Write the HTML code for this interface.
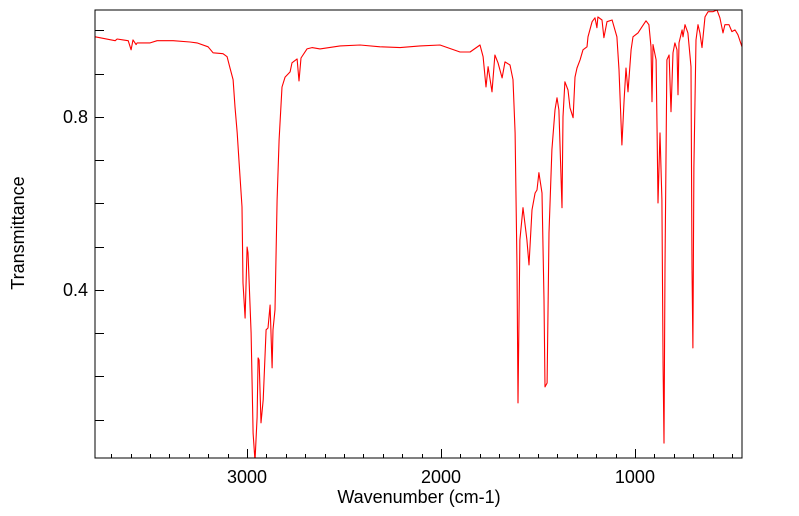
<!DOCTYPE html>
<html><head><meta charset="utf-8"><style>
html,body{margin:0;padding:0;background:#fff;}
svg{display:block;font-family:"Liberation Sans","DejaVu Sans",sans-serif;}
</style></head><body>
<svg id="chart" width="799" height="516" xmlns="http://www.w3.org/2000/svg">
<defs><clipPath id="clip"><rect x="95" y="10" width="647" height="448"/></clipPath></defs>
<g id="ticks"></g>
<g id="labels"></g>
<path id="spectrum" clip-path="url(#clip)" fill="none" stroke="#ff0000" stroke-width="1.1" stroke-linejoin="round"/>
<rect x="95" y="10" width="647" height="448" fill="none" stroke="#000" stroke-width="1"/>
<text x="419" y="503" font-size="18" text-anchor="middle">Wavenumber (cm-1)</text>
<text transform="translate(24,233) rotate(-90)" font-size="18" text-anchor="middle">Transmittance</text>
</svg>
<script>
const wavenumbers=[3783,3680,3670,3639,3613,3598,3588,3572,3567,3552,3500,3464,3381,3294,3258,3201,3175,3124,3103,3088,3072,3062,3051,3041,3026,3021,3010,3000,2995,2979,2969,2959,2948,2943,2938,2928,2917,2902,2892,2881,2871,2866,2856,2845,2835,2820,2804,2778,2768,2742,2732,2722,2691,2665,2624,2520,2417,2314,2211,2108,2005,1902,1850,1799,1783,1768,1757,1737,1722,1706,1685,1670,1644,1629,1618,1608,1603,1593,1577,1557,1546,1531,1515,1505,1495,1479,1469,1464,1453,1443,1428,1412,1402,1392,1376,1371,1361,1345,1335,1319,1309,1299,1283,1268,1247,1242,1221,1206,1196,1191,1170,1160,1144,1118,1093,1082,1067,1056,1046,1036,1020,1010,984,964,943,928,917,912,907,891,886,881,871,861,855,850,845,835,824,814,804,794,783,778,773,757,752,742,727,711,706,701,696,685,675,665,654,639,623,598,577,562,546,536,515,500,484,469,448];
const transmittance=[0.985,0.976,0.980,0.978,0.976,0.955,0.978,0.967,0.971,0.971,0.971,0.976,0.976,0.973,0.971,0.962,0.948,0.946,0.939,0.913,0.886,0.823,0.763,0.694,0.592,0.416,0.335,0.499,0.486,0.301,0.069,0.005,0.106,0.243,0.238,0.093,0.146,0.308,0.312,0.365,0.220,0.308,0.354,0.608,0.747,0.869,0.892,0.904,0.925,0.934,0.883,0.936,0.957,0.960,0.957,0.964,0.966,0.962,0.960,0.964,0.966,0.950,0.950,0.966,0.939,0.869,0.916,0.858,0.943,0.925,0.890,0.927,0.920,0.886,0.763,0.453,0.139,0.516,0.590,0.516,0.458,0.585,0.624,0.631,0.671,0.624,0.377,0.176,0.185,0.532,0.724,0.816,0.844,0.816,0.590,0.800,0.881,0.862,0.821,0.798,0.892,0.913,0.932,0.955,0.962,0.985,1.020,1.029,1.006,1.031,1.024,0.983,1.020,1.024,0.985,0.909,0.735,0.839,0.913,0.858,0.955,0.985,0.994,1.008,1.022,1.013,0.962,0.835,0.967,0.932,0.763,0.601,0.763,0.608,0.222,0.046,0.453,0.932,0.943,0.812,0.948,0.971,0.955,0.851,0.971,1.001,0.985,1.013,0.994,0.916,0.453,0.266,0.684,0.978,1.013,0.994,0.960,1.031,1.043,1.043,1.047,1.029,0.994,1.013,1.013,0.997,1.001,0.990,0.962];
const xTickLabels=[3000,2000,1000];
const yTickLabels=[0.4,0.8];
const xMinorTicks=[3700,3600,3500,3400,3300,3200,3100,3000,2900,2800,2700,2600,2500,2400,2300,2200,2100,2000,1900,1800,1700,1600,1500,1400,1300,1200,1100,1000,900,800,700,600,500];
const yMinorTicks=[0.1,0.2,0.3,0.4,0.5,0.6,0.7,0.8,0.9,1.0];

const X0=95,X1=742,Y0=10,Y1=458;
const W_LEFT=3784,W_RIGHT=448,T_TOP=1.047,T_BOT=0.0116;
function xs(w){return X0+(W_LEFT-w)/(W_LEFT-W_RIGHT)*(X1-X0);}
function ys(t){return Y0+(T_TOP-t)/(T_TOP-T_BOT)*(Y1-Y0);}
const NS="http://www.w3.org/2000/svg";
let d="";
wavenumbers.forEach((w,i)=>{d+=(i?"L":"M")+xs(w).toFixed(1)+","+ys(transmittance[i]).toFixed(1);});
document.getElementById("spectrum").setAttribute("d",d);
const tg=document.getElementById("ticks"),lg=document.getElementById("labels");
function line(x1,y1,x2,y2,name){const l=document.createElementNS(NS,"line");
l.setAttribute("x1",x1);l.setAttribute("y1",y1);l.setAttribute("x2",x2);l.setAttribute("y2",y2);
l.setAttribute("stroke","#000");l.setAttribute("stroke-width","1");


tg.appendChild(l);}
xMinorTicks.forEach(w=>{const x=Math.round(xs(w))+0.5;const major=xTickLabels.includes(w);line(x,Y1,x,Y1-(major?9:4),"x-tick");});
yMinorTicks.forEach(t=>{const y=Math.round(ys(t))+0.5;line(X0,y,X0+9,y,"y-tick");});
xTickLabels.forEach(w=>{const t=document.createElementNS(NS,"text");
t.setAttribute("x",xs(w));t.setAttribute("y",Y1+25);t.setAttribute("font-size","18");t.setAttribute("text-anchor","middle");
t.textContent=w;


lg.appendChild(t);});
yTickLabels.forEach(v=>{const t=document.createElementNS(NS,"text");
t.setAttribute("x",88);t.setAttribute("y",ys(v)+6);t.setAttribute("font-size","18");t.setAttribute("text-anchor","end");
t.textContent=v.toFixed(1);


lg.appendChild(t);});
</script>
</body></html>
